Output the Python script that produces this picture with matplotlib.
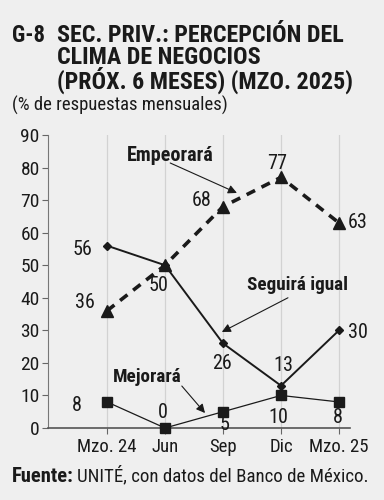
import matplotlib.pyplot as plt
from matplotlib import font_manager as fm

# ── Data ────────────────────────────────────────────────────────────────────
months = ['Mzo. 24', 'Jun', 'Sep', 'Dic', 'Mzo. 25']
empeorara = [36, 50, 68, 77, 63]
seguira = [56, 50, 26, 13, 30]
mejorara = [8, 0, 5, 10, 8]

# label offsets in pixels (dx, dy); None = no label
off_emp = [(-22, 8), None, (-21, 6), (-4, 14), (19, 0)]
off_seg = [(-24, -4), (-7, -20), (-1, -20), (2, 20), (19, -2)]
off_mej = [(-30, -4), (-2, 16), (2, -13), (-3, -22), (-1, -16)]

title_lines = ['SEC. PRIV.: PERCEPCIÓN DEL',
               'CLIMA DE NEGOCIOS',
               '(PRÓX. 6 MESES) (MZO. 2025)']

BG = '#efefef'
INK = '#1a1a1a'

# pick a narrow face if one is installed
fonts = fm.fontManager.ttflist
names = {f.name for f in fonts}
STRETCH = 'normal'
FAMILY = 'Roboto'
for cand in ['Roboto Condensed', 'Liberation Sans Narrow', 'Open Sans Condensed']:
    if cand in names:
        FAMILY = cand
        break
else:
    for f in fonts:
        if f.name in ('Roboto', 'DejaVu Sans', 'Liberation Sans') and f.stretch == 'condensed':
            FAMILY, STRETCH = f.name, 'condensed'
            break

plt.rcParams['font.family'] = [FAMILY, 'DejaVu Sans']
plt.rcParams['font.stretch'] = STRETCH

W, H = 384, 500
fig = plt.figure(figsize=(W / 100, H / 100), dpi=100, facecolor=BG)
R = fig.canvas.get_renderer()

def px(x, y):
    return x / W, 1 - y / H

def fit_text(x, y, s, width, size, **kw):
    # shrink a text so it spans the same width as in the reference
    kw.setdefault('va', 'center')
    t = fig.text(*px(x, y), s, fontsize=size, color=INK, ha='left', **kw)
    w = t.get_window_extent(renderer=R).width
    if w > width:
        t.set_fontsize(size * width / w)
    return t

# axes placed in pixel space
x0, x1, ytop, ybot = 48, 350, 135, 428
ax = fig.add_axes([x0 / W, 1 - ybot / H, (x1 - x0) / W, (ybot - ytop) / H])
ax.set_facecolor(BG)

xs = list(range(len(months)))
ax.set_xlim((x0 - 107) / 58, (x1 - 107) / 58)
ax.set_ylim(0, 90)

for s in ['top', 'right']:
    ax.spines[s].set_visible(False)
ax.spines['left'].set_color('#777777')
ax.spines['bottom'].set_color('#555555')
ax.spines['bottom'].set_linewidth(1.2)

for x in xs:
    ax.axvline(x, color='#d2d2d2', lw=0.9, zorder=0)

ax.set_yticks(range(0, 91, 10))
ax.set_xticks(xs)
ax.set_xticklabels(months)
ax.tick_params(axis='y', labelsize=14, pad=2)
ax.tick_params(axis='x', labelsize=13.5, pad=3)
ax.tick_params(axis='both', colors='#666666', labelcolor=INK, length=4, width=0.8)

ax.plot(xs, empeorara, color=INK, lw=2.6, ls=(0, (2.6, 2.0)), marker='^',
        ms=8, clip_on=False, zorder=3)
ax.plot(xs, seguira, color=INK, lw=1.4, marker='D', ms=4.5,
        clip_on=False, zorder=3)
ax.plot(xs, mejorara, color=INK, lw=0.9, marker='s', ms=6.5,
        clip_on=False, zorder=4)

for vals, offs in [(empeorara, off_emp), (seguira, off_seg), (mejorara, off_mej)]:
    for x, v, o in zip(xs, vals, offs):
        if o is None:
            continue
        ax.annotate(str(v), (x, v), xytext=o, textcoords='offset pixels',
                    ha='center', va='center', fontsize=14.5, color=INK,
                    annotation_clip=False)

# ── Series annotations with arrows ─────────────────────────────────────────
arrow = dict(arrowstyle='-|>', color=INK, lw=0.8,
             mutation_scale=13, shrinkA=0, shrinkB=0)

def series_note(text, txy, tail, tip, size):
    ax.text(*txy, text, ha='center', va='center', fontsize=size,
            fontweight='bold', color=INK)
    ax.annotate('', xy=tip, xytext=tail, arrowprops=arrow)

series_note('Empeorará', (1.09, 83.8), (1.09, 81.4), (2.24, 72.2), 14.5)
series_note('Seguirá igual', (3.29, 43.9), (3.12, 40.0), (1.98, 29.5), 13.8)
series_note('Mejorará', (0.69, 15.7), (1.29, 12.9), (1.69, 4.6), 13.8)

# ── Titles ─────────────────────────────────────────────────────────────────
g8 = fit_text(12, 36, 'G-8', 33, 19, fontweight='bold')
title = fit_text(57, 36, title_lines[0], 286, 19, fontweight='bold')
h1 = title.get_window_extent(renderer=R).height
title.set_text('\n'.join(title_lines))
title.set_va('top')
title.set_y(1 - (36 - h1 / 2) / H)
title.set_linespacing(21 / h1)

fit_text(12, 105, '(% de respuestas mensuales)', 218, 14)

# ── Source ─────────────────────────────────────────────────────────────────
t = fit_text(12, 476, 'Fuente:', 62, 15, fontweight='bold')
bb = t.get_window_extent(renderer=R)
fit_text(bb.x1 + 3, 476, 'UNITÉ, con datos del Banco de México.', 368 - bb.x1 - 3, 15)

fig.savefig('out.png', dpi=100, facecolor=BG)
